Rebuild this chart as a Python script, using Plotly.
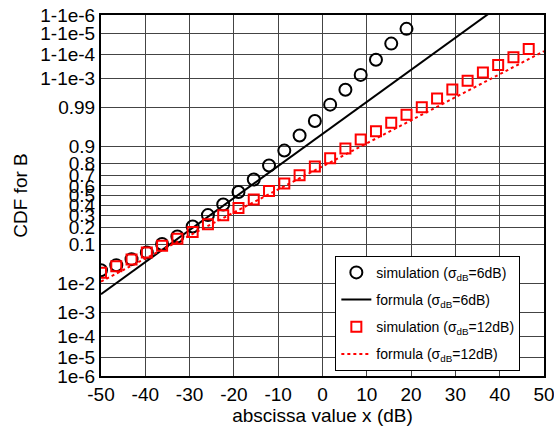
import plotly.graph_objects as go
from statistics import NormalDist

ND = NormalDist()

# ---------------- data ----------------
# abscissa sample points of the simulations (dB)
sim_x = [-50 + k * 100 / 29 for k in range(29)]

# simulated CDF, sigma_dB = 6 dB (points k = 0..20)
sim6_cdf = [0.0244, 0.0333, 0.0469, 0.0666, 0.1006, 0.1401, 0.2072, 0.3029,
            0.4056, 0.5363, 0.6631, 0.7852, 0.8816, 0.9431, 0.9752, 0.99164,
            0.99733, 0.999254, 0.999825, 0.9999683, 0.9999943]

# simulated CDF, sigma_dB = 12 dB (points k = 0..28)
sim12_cdf = [0.0208, 0.0314, 0.0461, 0.0666, 0.0926, 0.127, 0.168, 0.2242,
             0.302, 0.3715, 0.4586, 0.5478, 0.6248, 0.7023, 0.7767, 0.837,
             0.8927, 0.9299, 0.9544, 0.9721, 0.9834, 0.99002, 0.99467,
             0.99736, 0.99874, 0.999404, 0.999709, 0.999864, 0.9999425]

# formula curves
form_x = [-50, -40, -30, -20, -10, 0, 10, 20, 30, 40, 50]
form6_cdf = [0.00469, 0.0396, 0.1811, 0.4733, 0.782, 0.9477, 0.99319,
             0.999534, 0.9999839, 0.99999971]
form12_cdf = [0.0117, 0.0485, 0.146, 0.327, 0.5635, 0.778, 0.9154, 0.9763,
              0.99517, 0.9993, 0.999928]

# tick probabilities and labels
ytick_p = [1e-6, 1e-5, 1e-4, 1e-3, 1e-2, 0.1, 0.2, 0.3, 0.4, 0.5, 0.6, 0.7,
           0.8, 0.9, 0.99, 1 - 1e-3, 1 - 1e-4, 1 - 1e-5, 1 - 1e-6]
ytick_txt = ["1e-6", "1e-5", "1e-4", "1e-3", "1e-2", "0.1", "0.2", "0.3",
             "0.4", "0.5", "0.6", "0.7", "0.8", "0.9", "0.99", "1-1e-3",
             "1-1e-4", "1-1e-5", "1-1e-6"]
xtick_vals = [-50, -40, -30, -20, -10, 0, 10, 20, 30, 40, 50]
xtick_txt = ["-50", "-40", "-30", "-20", "-10", "0", "10", "20", "30", "40", "50"]


def probit(ps):
    return [ND.inv_cdf(p) for p in ps]


FONT = "Arial, Liberation Sans, sans-serif"

fig = go.Figure()
fig.add_trace(go.Scatter(
    x=sim_x[:len(sim6_cdf)], y=probit(sim6_cdf), mode="markers",
    marker=dict(symbol="circle-open", size=12, color="black",
                line=dict(width=2, color="black")),
    name="simulation (σ<sub>dB</sub>=6dB)", legendgroup="a"))
fig.add_trace(go.Scatter(
    x=form_x[:len(form6_cdf)], y=probit(form6_cdf), mode="lines",
    line=dict(color="black", width=2),
    name="formula (σ<sub>dB</sub>=6dB)", legendgroup="b"))
fig.add_trace(go.Scatter(
    x=sim_x[:len(sim12_cdf)], y=probit(sim12_cdf), mode="markers",
    marker=dict(symbol="square-open", size=10, color="red",
                line=dict(width=2, color="red")),
    name="simulation (σ<sub>dB</sub>=12dB)", legendgroup="c"))
fig.add_trace(go.Scatter(
    x=form_x, y=probit(form12_cdf), mode="lines",
    line=dict(color="red", width=2, dash="dot"),
    name="formula (σ<sub>dB</sub>=12dB)", legendgroup="d"))

ymax = ND.inv_cdf(1 - 1e-6)

fig.update_layout(
    width=554, height=431,
    margin=dict(l=101, r=10, t=15, b=55, autoexpand=False),
    paper_bgcolor="white", plot_bgcolor="white",
    font=dict(family=FONT, color="black"),
    showlegend=True,
    legend=dict(x=0.529, y=0.333, xanchor="left", yanchor="top",
                bgcolor="white", bordercolor="black", borderwidth=1,
                font=dict(size=14, family=FONT), tracegroupgap=6,
                itemwidth=30),
    xaxis=dict(range=[-50, 50], tickmode="array", tickvals=xtick_vals,
               ticktext=xtick_txt, ticklabeloverflow="allow",
               showgrid=True, gridcolor="#444444", gridwidth=1,
               showline=True, linecolor="black", linewidth=2, mirror=True,
               zeroline=False, ticks="", tickfont=dict(size=19),
               title=dict(text="abscissa value x (dB)",
                          font=dict(size=19), standoff=1)),
    yaxis=dict(range=[-ymax, ymax], tickmode="array",
               tickvals=probit(ytick_p), ticktext=ytick_txt,
               showgrid=True, gridcolor="#444444", gridwidth=1,
               showline=True, linecolor="black", linewidth=2, mirror=True,
               zeroline=False, ticks="", tickfont=dict(size=19),
               title=dict(text="CDF for B", font=dict(size=19), standoff=8)),
)

fig.write_html("out.html", config={"displayModeBar": False},
               post_script="document.body.style.margin='0';"
                           "document.body.style.overflow='hidden';")
